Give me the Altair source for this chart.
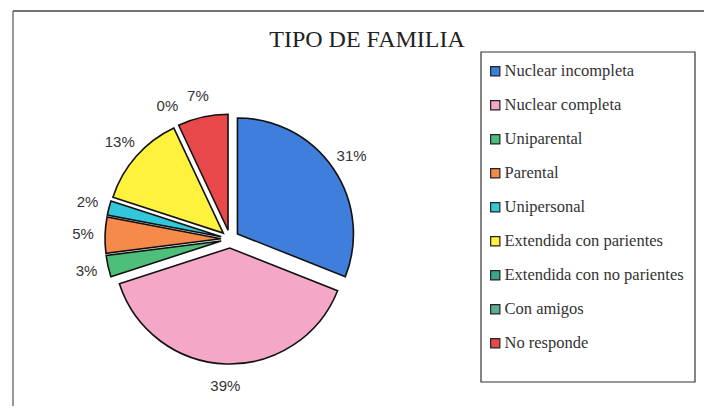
import altair as alt
import pandas as pd

# ---- data ----
titulo = "TIPO DE FAMILIA"
categorias = [
    "Nuclear incompleta",
    "Nuclear completa",
    "Uniparental",
    "Parental",
    "Unipersonal",
    "Extendida con parientes",
    "Extendida con no parientes",
    "Con amigos",
    "No responde",
]
porcentajes = [31, 39, 3, 5, 2, 13, 0, 0, 7]
colores = ["#3F7FDB", "#F4A7C6", "#4DBF7B", "#F68A4B", "#33C7DC",
           "#FFF23C", "#3BA58A", "#5BAF90", "#E8484A"]

df = pd.DataFrame({"categoria": categorias, "valor": porcentajes,
                   "orden": list(range(len(categorias)))})

CX, CY, R, EXPLODE, RLAB = 222, 231, 116, 9, 147
W, H = 696, 398

base = (
    alt.Chart(df)
    .transform_joinaggregate(total="sum(valor)")
    .transform_window(cum="sum(valor)", sort=[alt.SortField("orden")], frame=[None, 0])
    .transform_calculate(
        t0="2*PI*(datum.cum-datum.valor)/datum.total",
        t1="2*PI*datum.cum/datum.total",
    )
    .transform_calculate(
        tm="(datum.t0+datum.t1)/2",
        label="datum.valor + '%'",
    )
    .transform_calculate(
        cx=f"{CX}+{EXPLODE}*sin(datum.tm)",
        cy=f"{CY}-{EXPLODE}*cos(datum.tm)",
    )
)

color = alt.Color(
    "categoria:N",
    scale=alt.Scale(domain=categorias, range=colores),
    sort=categorias,
    legend=alt.Legend(
        orient="none", legendX=479, legendY=55, title=None,
        symbolType="square", symbolSize=85, symbolStrokeColor="#222",
        symbolStrokeWidth=1.2, symbolOpacity=1,
        labelFont="Liberation Serif", labelFontSize=16.5, labelColor="#333",
        rowPadding=17, labelOffset=1, labelLimit=300, padding=0,
    ),
)

arcs = base.transform_filter("datum.valor > 0").mark_arc(
    outerRadius=R, stroke="#111", strokeWidth=1.6, opacity=1
).encode(
    theta=alt.Theta("t0:Q", scale=None),
    theta2="t1:Q",
    x=alt.X("cx:Q", scale=None, axis=None),
    y=alt.Y("cy:Q", scale=None, axis=None),
    color=color,
)

# only one label is shown for the coincident zero-valued slices
labels = base.transform_filter(
    "datum.valor > 0 || datum.orden == 6"
).mark_text(
    font="Liberation Sans", fontSize=15, color="#333", radius=RLAB,
    align="center", baseline="middle"
).encode(
    theta=alt.Theta("tm:Q", scale=None),
    x=alt.value(CX),
    y=alt.value(CY),
    text="label:N",
)

dummy = alt.Chart(pd.DataFrame({"a": [0]}))

title_mark = dummy.mark_text(
    text=titulo, font="Liberation Serif", fontSize=24, color="#222",
    align="center", baseline="middle"
).encode(x=alt.value(359), y=alt.value(32))

legend_box = dummy.mark_rect(fillOpacity=0, stroke="#333", strokeWidth=1.2).encode(
    x=alt.value(473), x2=alt.value(687), y=alt.value(44), y2=alt.value(374)
)

top_line = dummy.mark_rule(color="#444", strokeWidth=1.5).encode(
    x=alt.value(5), x2=alt.value(W), y=alt.value(3)
)
left_line = dummy.mark_rule(color="#555", strokeWidth=1.2).encode(
    x=alt.value(5), y=alt.value(3), y2=alt.value(H)
)

chart = (
    alt.layer(top_line, left_line, legend_box, title_mark, arcs, labels)
    .properties(width=W, height=H, autosize=alt.AutoSizeParams(type="none"), padding=0,
                background="white")
    .configure_view(strokeWidth=0)
)

chart.save("out.html", embed_options={"renderer": "svg", "actions": False})
